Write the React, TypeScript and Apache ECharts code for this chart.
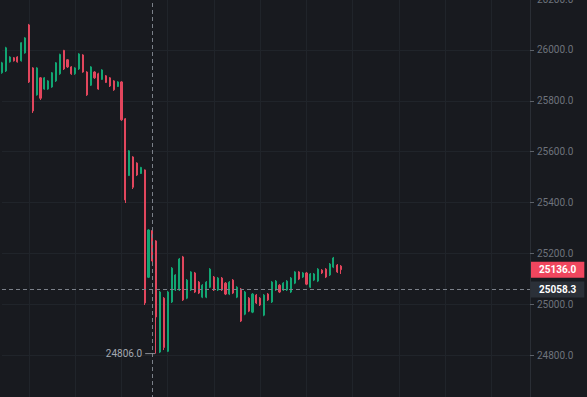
import React, { useEffect, useRef } from "react";
import * as echarts from "echarts";

const opens = [25910, 25917, 25953, 25969, 25972, 25957, 25988, 26098, 25929, 25823, 25890, 25846, 25846, 25854, 25878, 25906, 25998, 25961, 25933, 25906, 25925, 25980, 25913, 25861, 25913, 25906, 25884, 25898, 25890, 25878, 25856, 25874, 25729, 25506, 25579, 25555, 25514, 25528, 25106, 25290, 25249, 24812, 25024, 24815, 25009, 25056, 25056, 25186, 25024, 25056, 25123, 25087, 25028, 25028, 25067, 25107, 25056, 25103, 25083, 25040, 25095, 25028, 25060, 24961, 25024, 24969, 25036, 25024, 24957, 25040, 25009, 25056, 25075, 25056, 25056, 25048, 25083, 25127, 25107, 25123, 25067, 25095, 25091, 25134, 25138, 25115, 25146, 25154, 25150];
const closes = [25949, 26008, 25972, 25957, 25953, 26028, 26047, 25874, 25760, 25929, 25810, 25890, 25878, 25910, 25949, 25982, 25925, 25933, 25906, 25929, 25984, 25913, 25823, 25933, 25890, 25846, 25921, 25872, 25858, 25843, 25874, 25725, 25410, 25603, 25460, 25508, 25538, 25005, 25292, 25170, 24950, 25048, 24830, 25048, 25142, 25115, 25178, 25017, 25095, 25127, 25048, 25044, 25075, 25087, 25138, 25056, 25103, 25056, 25040, 25087, 25044, 25067, 24934, 25048, 24973, 25040, 25005, 24997, 25036, 25017, 25087, 25091, 25048, 25083, 25091, 25103, 25127, 25099, 25123, 25079, 25119, 25119, 25138, 25123, 25107, 25158, 25182, 25127, 25136];
const lows = [25906, 25913, 25950, 25954, 25950, 25954, 25985, 25870, 25752, 25820, 25803, 25843, 25843, 25851, 25874, 25902, 25921, 25929, 25902, 25902, 25921, 25910, 25819, 25858, 25886, 25843, 25882, 25870, 25854, 25839, 25854, 25721, 25398, 25504, 25453, 25504, 25512, 24997, 25103, 25166, 24806, 24808, 24820, 24812, 25005, 25052, 25052, 25013, 25020, 25052, 25044, 25040, 25024, 25024, 25064, 25052, 25052, 25052, 25036, 25036, 25040, 25024, 24930, 24957, 24969, 24965, 25001, 24993, 24953, 25013, 25005, 25052, 25044, 25052, 25052, 25044, 25079, 25095, 25103, 25075, 25064, 25091, 25087, 25119, 25103, 25111, 25142, 25123, 25119];
const highs = [25953, 26012, 25975, 25972, 25975, 26030, 26050, 26102, 25932, 25932, 25893, 25893, 25881, 25913, 25952, 25985, 26000, 25964, 25936, 25932, 25987, 25983, 25916, 25936, 25916, 25910, 25924, 25901, 25893, 25881, 25877, 25877, 25732, 25606, 25582, 25558, 25540, 25530, 25295, 25295, 25252, 25052, 25028, 25052, 25146, 25118, 25182, 25190, 25099, 25130, 25127, 25091, 25079, 25091, 25142, 25111, 25107, 25107, 25087, 25091, 25099, 25071, 25064, 25052, 25028, 25044, 25040, 25028, 25040, 25044, 25091, 25095, 25079, 25087, 25095, 25107, 25130, 25130, 25127, 25127, 25123, 25123, 25142, 25138, 25142, 25162, 25186, 25158, 25154];

const yTicks = [24600, 24800, 25000, 25200, 25400, 25600, 25800, 26000, 26200];
const totalSlots = 138;
const categories: string[] = [];
for (let i = 0; i < totalSlots; i++) {
  const m = 9 * 60 + i;
  categories.push(`${String(Math.floor(m / 60) % 24).padStart(2, "0")}:${String(m % 60).padStart(2, "0")}`);
}

const crossIndex = 39;
const crossPrice = 25058.3;
const lastPrice = 25136.0;
const minIndex = 40;
const minPrice = 24806.0;

const UP = "#12a673";
const DOWN = "#e2465d";

export default function App() {
  const ref = useRef<HTMLDivElement>(null);
  useEffect(() => {
    document.body.style.margin = "0";
    document.body.style.background = "#181a1f";
    const chart = echarts.init(ref.current!, undefined, { renderer: "svg" });
    const candleData = opens.map((o, i) => [o, closes[i], lows[i], highs[i]]);
    const dashed = { type: [4, 3] as any, color: "#7b8089", width: 1 };
    chart.setOption({
      animation: false,
      backgroundColor: "#181a1f",
      grid: { left: 2, right: 57, top: -1, bottom: -9, containLabel: false, outerBoundsMode: "none" },
      xAxis: {
        type: "category",
        data: categories,
        boundaryGap: false,
        axisLine: { show: false },
        axisTick: { show: false },
        axisLabel: { show: false },
        splitLine: {
          show: true,
          interval: (i: number) => i >= 7 && (i - 7) % 12 === 0,
          lineStyle: { color: "#20242a", width: 1 },
        },
      },
      yAxis: {
        type: "value",
        position: "right",
        min: yTicks[0],
        max: yTicks[yTicks.length - 1],
        interval: 200,
        axisLine: { show: true, lineStyle: { color: "#2a2e35" } },
        axisTick: { show: true, length: 4, lineStyle: { color: "#5c6169" } },
        axisLabel: {
          color: "#6e737c",
          fontSize: 10,
          fontFamily: "Roboto, sans-serif",
          margin: 7,
          showMinLabel: false,
          formatter: (v: number) => v.toFixed(1),
        },
        splitLine: { show: true, lineStyle: { color: "#20242a", width: 1 } },
      },
      series: [
        {
          type: "candlestick",
          data: candleData,
          barWidth: 1.6,
          itemStyle: {
            color: UP,
            color0: DOWN,
            borderColor: UP,
            borderColor0: DOWN,
            borderWidth: 1,
          },
          markLine: {
            silent: true,
            symbol: ["none", "none"],
            animation: false,
            data: [
              {
                xAxis: categories[crossIndex],
                lineStyle: dashed,
                label: { show: false },
              },
              {
                yAxis: lastPrice,
                lineStyle: { color: "rgba(0,0,0,0)", width: 1 },
                label: {
                  show: true,
                  position: "end",
                  distance: 1,
                  formatter: lastPrice.toFixed(1),
                  color: "#ffffff",
                  fontSize: 10,
                  fontWeight: "bold",
                  fontFamily: "Roboto, sans-serif",
                  backgroundColor: "#f0465e",
                  padding: [3, 8, 3, 8],
                },
              },
              {
                yAxis: crossPrice,
                lineStyle: dashed,
                label: {
                  show: true,
                  position: "end",
                  distance: 1,
                  formatter: crossPrice.toFixed(1),
                  color: "#ffffff",
                  fontSize: 10,
                  fontWeight: "bold",
                  fontFamily: "Roboto, sans-serif",
                  backgroundColor: "#2b3038",
                  padding: [3, 8, 3, 8],
                },
              },
            ],
          },
          markPoint: {
            silent: true,
            animation: false,
            symbol: "circle",
            symbolSize: 0,
            data: [
              {
                coord: [categories[minIndex], minPrice],
                value: minPrice,
                itemStyle: { color: "transparent" },
                label: {
                  show: true,
                  position: "left",
                  distance: 1,
                  formatter: `{a|${minPrice.toFixed(1)}}{b|}`,
                  rich: {
                    a: { color: "#a3a8b0", fontSize: 10, fontFamily: "Roboto, sans-serif", padding: [0, 3, 0, 0] },
                    b: { width: 10, height: 1, backgroundColor: "#8a8f97" },
                  },
                },
              },
            ],
          },
        },
      ],
    });
    return () => chart.dispose();
  }, []);
  return <div ref={ref} style={{ width: 587, height: 397, background: "#181a1f" }} />;
}
